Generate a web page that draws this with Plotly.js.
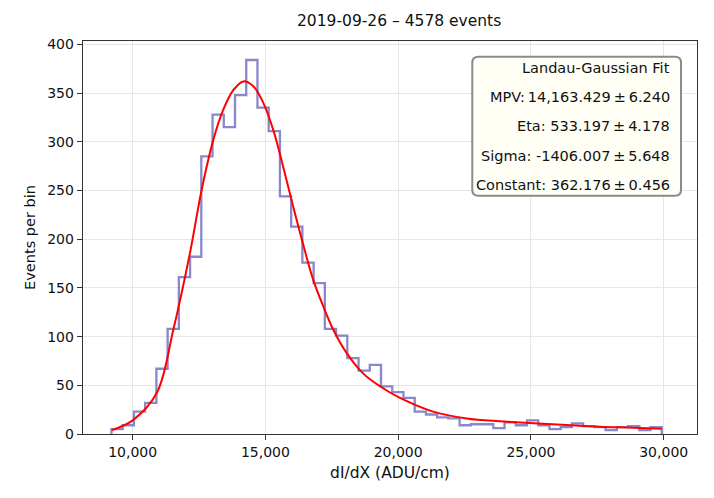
<!DOCTYPE html>
<html>
<head>
<meta charset="utf-8">
<script src="https://cdn.plot.ly/plotly-3.0.1.min.js"></script>
<style>
  html, body { margin: 0; padding: 0; background: #fff; }
  #hist { width: 714px; height: 498px; }
</style>
</head>
<body>
<div id="hist"></div>
<script>
// histogram: first bin edge, bin width and counts per bin
var binStart = 9200;
var binWidth = 423;
var counts = [5, 9, 23, 32, 67, 108, 161, 182, 285, 328,
              315, 348, 384, 335, 311, 244, 213, 176, 155, 108,
              101, 78, 65, 71, 49, 43, 37, 23, 20, 17,
              16, 9, 10, 10, 6, 12, 9, 14, 9, 5,
              7, 11, 8, 7, 4, 7, 8, 4, 7];

// Landau-Gaussian fit curve
var fitX = [9209, 10000, 10904, 11530, 12158, 12599, 13036, 13412, 13789, 14166,
            14542, 14919, 15296, 15672, 16049, 16426, 16802, 17179, 17556, 18060,
            18686, 19314, 20068, 21311, 22580, 23834, 25089, 26343, 27601, 28855, 29925];
var fitY = [4, 14, 42, 107, 186, 251, 302, 333, 353, 362,
            357, 340, 312, 274, 233, 194, 158, 131, 107, 83,
            62, 49, 37, 23, 16, 13, 11, 9.2, 7.5, 6.5, 5.4];

var titleText = '2019-09-26 \u2013 4578 events';
var fitLines = ['Landau-Gaussian Fit',
                'MPV:\u200914,163.429\u2009\u00b1\u20096.240',
                'Eta: 533.197\u2009\u00b1\u20094.178',
                'Sigma: -1406.007\u2009\u00b1\u20095.648',
                'Constant: 362.176\u2009\u00b1\u20090.456'];

// step outline: drop to zero at both ends
var stepX = [binStart], stepY = [0];
for (var i = 0; i < counts.length; i++) {
  stepX.push(binStart + i * binWidth);
  stepY.push(counts[i]);
}
stepX.push(binStart + counts.length * binWidth);
stepY.push(counts[counts.length - 1]);
stepX.push(binStart + counts.length * binWidth);
stepY.push(0);

var histTrace = {
  x: stepX, y: stepY,
  type: 'scatter', mode: 'lines',
  line: {shape: 'hv', color: 'rgba(80,80,180,0.68)', width: 2.3},
  hoverinfo: 'skip'
};

var fitTrace = {
  x: fitX, y: fitY,
  type: 'scatter', mode: 'lines',
  line: {shape: 'spline', smoothing: 1, color: '#ff0000', width: 2},
  hoverinfo: 'skip'
};

var font = 'DejaVu Sans, Verdana, sans-serif';

// box for the fit parameters, rounded corners in paper units
var bx0 = 0.634, bx1 = 0.974, by0 = 0.606, by1 = 0.96;
var rx = 6 / 614, ry = 6 / 393;
var boxPath = 'M' + (bx0 + rx) + ',' + by1 +
  ' L' + (bx1 - rx) + ',' + by1 + ' Q' + bx1 + ',' + by1 + ' ' + bx1 + ',' + (by1 - ry) +
  ' L' + bx1 + ',' + (by0 + ry) + ' Q' + bx1 + ',' + by0 + ' ' + (bx1 - rx) + ',' + by0 +
  ' L' + (bx0 + rx) + ',' + by0 + ' Q' + bx0 + ',' + by0 + ' ' + bx0 + ',' + (by0 + ry) +
  ' L' + bx0 + ',' + (by1 - ry) + ' Q' + bx0 + ',' + by1 + ' ' + (bx0 + rx) + ',' + by1 + ' Z';

var annots = [];
for (var j = 0; j < fitLines.length; j++) {
  annots.push({
    xref: 'paper', yref: 'paper',
    x: 0.96, y: 0.932 - j * 0.0745,
    xanchor: 'right', yanchor: 'middle',
    text: fitLines[j], showarrow: false,
    font: {family: font, size: 14.5, color: '#111'}
  });
}

var layout = {
  width: 714, height: 498,
  margin: {l: 83, r: 17, t: 41, b: 64},
  paper_bgcolor: '#fff', plot_bgcolor: '#fff',
  showlegend: false,
  font: {family: font, size: 14, color: '#111'},
  title: {text: titleText, x: 0.559, xanchor: 'center', y: 0.958, yanchor: 'middle',
          font: {family: font, size: 15.5, color: '#111'}},
  xaxis: {
    range: [8128, 31254],
    tickvals: [10000, 15000, 20000, 25000, 30000],
    tickformat: ',d',
    ticks: 'outside', ticklen: 5, tickcolor: '#333',
    showline: true, mirror: true, linecolor: '#333', linewidth: 1.3,
    showgrid: true, gridcolor: '#e6e6e6', zeroline: false,
    tickfont: {family: font, size: 14},
    title: {text: 'dI/dX (ADU/cm)', font: {family: font, size: 15.5}, standoff: 8}
  },
  yaxis: {
    range: [0, 403.5],
    dtick: 50,
    ticks: 'outside', ticklen: 5, tickcolor: '#333',
    showline: true, mirror: true, linecolor: '#333', linewidth: 1.3,
    showgrid: true, gridcolor: '#e6e6e6', zeroline: false,
    tickfont: {family: font, size: 14},
    title: {text: 'Events per bin', font: {family: font, size: 14.5}, standoff: 8}
  },
  shapes: [{
    type: 'path', xref: 'paper', yref: 'paper', path: boxPath,
    fillcolor: '#fffff6', line: {color: '#8a8a8a', width: 2}, layer: 'above'
  }],
  annotations: annots
};

Plotly.newPlot('hist', [histTrace, fitTrace], layout, {staticPlot: true});
</script>
</body>
</html>
